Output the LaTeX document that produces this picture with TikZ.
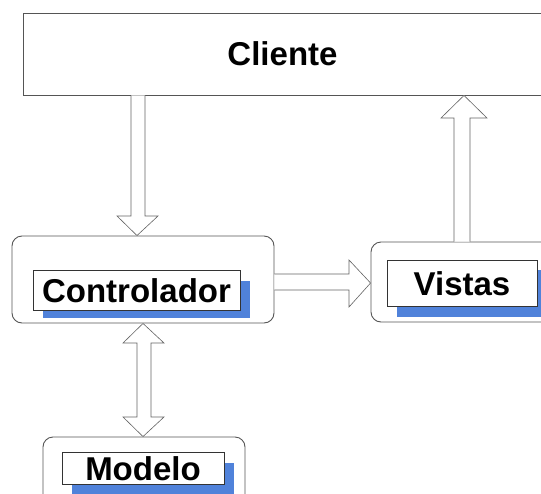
\documentclass[tikz,border=0pt]{standalone}
\usepackage{fontspec}
\setmainfont{Liberation Sans}
\definecolor{shadowblue}{RGB}{80,130,218}
\definecolor{boxgray}{RGB}{85,85,85}
\definecolor{arrowgray}{RGB}{100,100,100}
\tikzset{
  outerbox/.style={draw=boxgray, line width=0.9pt, rounded corners=10pt, minimum width=#1, inner sep=0pt},
  labelbox/.style={draw=black!80, fill=white, line width=0.8pt, inner sep=0pt,
    font=\fontsize{33}{36}\selectfont\bfseries, text height=24pt, text depth=0pt},
  shadowbox/.style={fill=shadowblue, inner sep=0pt},
  blockarrow/.style={draw=arrowgray, fill=white, line width=0.6pt, line join=miter}
}
\begin{document}
\begin{tikzpicture}[x=1pt,y=-1pt]
\clip (0,0) rectangle (541,493);
\fill[white] (0,0) rectangle (541,493);
% Cliente
\node[draw=boxgray, line width=0.9pt, minimum width=519pt, minimum height=82pt, inner sep=0pt,
  font=\fontsize{33}{36}\selectfont\bfseries] (cliente) at (282.5,54) {Cliente};
% Controlador
\node[outerbox=262pt, minimum height=87pt] (ctrlbox) at (143,279.5) {};
\node[shadowbox, minimum width=207pt, minimum height=37pt] (ctrlshadow) at (146.5,299.5) {};
\node[labelbox, minimum width=207pt, minimum height=40pt] (ctrl) at (136.5,290) {Controlador};
% Vistas
\node[outerbox=189pt, minimum height=80pt] (vistasbox) at (465.5,282) {};
\node[shadowbox, minimum width=163pt, minimum height=47pt] (vistasshadow) at (478.5,293.5) {};
\node[labelbox, minimum width=150pt, minimum height=46pt] (vistas) at (462,283) {Vistas};
% Modelo
\node[outerbox=202pt, minimum height=73pt] (modelobox) at (144,473.5) {};
\node[shadowbox, minimum width=162pt, minimum height=37pt] (modeloshadow) at (153,481.5) {};
\node[labelbox, minimum width=162pt, minimum height=32pt] (modelo) at (143,468) {Modelo};
% Cliente -> Controlador
\draw[blockarrow] (131,0 |- cliente.south) -- (131,216) -- (117,216) -- (137,0 |- ctrlbox.north)
  -- (158,216) -- (145,216) -- (145,0 |- cliente.south);
% Controlador -> Vistas
\draw[blockarrow] (ctrlbox.east |- 0,274) -- (349,274) -- (349,260) -- (vistasbox.west |- 0,283)
  -- (349,307) -- (349,290) -- (ctrlbox.east |- 0,290);
% Vistas -> Cliente
\draw[blockarrow] (454,0 |- vistasbox.north) -- (454,118) -- (441,118) -- (464,0 |- cliente.south)
  -- (487,118) -- (470,118) -- (470,0 |- vistasbox.north);
% Controlador <-> Modelo
\draw[blockarrow] (143,0 |- ctrlbox.south) -- (164,343) -- (151,343) -- (151,417) -- (164,417)
  -- (143,0 |- modelobox.north) -- (123,417) -- (137,417) -- (137,343) -- (123,343) -- cycle;
\end{tikzpicture}
\end{document}
